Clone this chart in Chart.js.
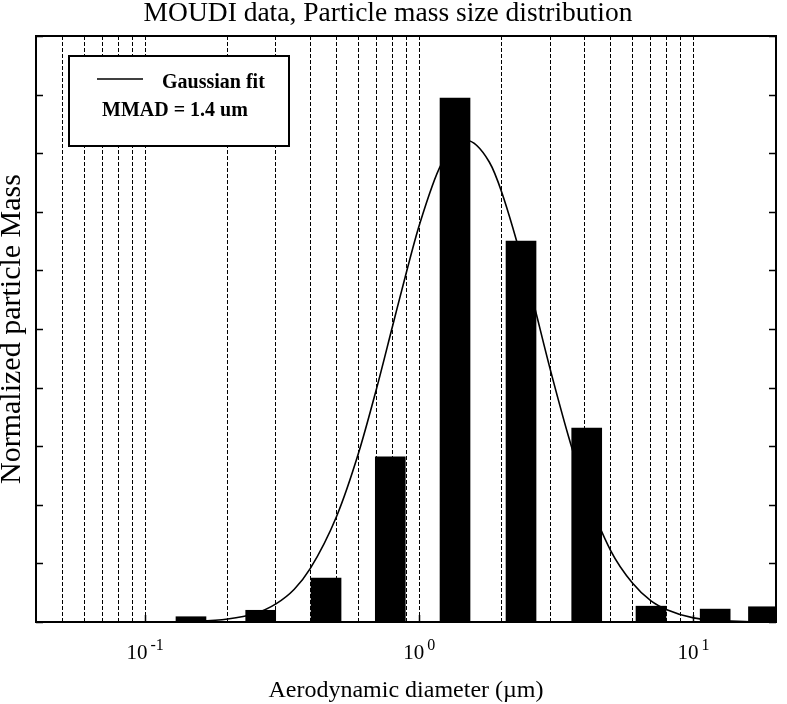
<!DOCTYPE html>
<html>
<head>
<meta charset="utf-8">
<script src="https://cdn.jsdelivr.net/npm/chart.js@4.4.0/dist/chart.umd.min.js"></script>
<style>
  html, body { margin: 0; padding: 0; background: #fff; }
  #wrap { width: 787px; height: 704px; }
</style>
</head>
<body>
<div id="wrap"><canvas id="myChart"></canvas></div>
<script>
// MOUDI stage mid diameters (um) and normalized mass
var stageDiameters = [0.147, 0.264, 0.457, 0.784, 1.35, 2.35, 4.08, 7.0, 12.0, 18.0];
var stageMass = [0.009, 0.020, 0.075, 0.282, 0.894, 0.650, 0.331, 0.027, 0.022, 0.026];

// points
var fitDiameters = [0.12, 0.15, 0.2, 0.25, 0.3, 0.35, 0.4, 0.5, 0.6, 0.7, 0.8, 0.9, 1.0, 1.2, 1.48, 1.8, 2.0, 2.5, 3.0, 3.5, 4.0, 5.0, 6.0, 7.0, 8.0, 10, 12, 16];
var fitMass = [0.0002, 0.001, 0.005, 0.014, 0.031, 0.056, 0.091, 0.181, 0.288, 0.400, 0.506, 0.599, 0.677, 0.780, 0.822, 0.785, 0.733, 0.578, 0.432, 0.317, 0.230, 0.121, 0.066, 0.036, 0.021, 0.007, 0.003, 0.0005];

// dashed grid at the log minor ticks, labels only on the decades
var xGridTicks = [0.05, 0.06, 0.07, 0.08, 0.09, 0.1, 0.2, 0.3, 0.4, 0.5, 0.6, 0.7, 0.8, 0.9, 1, 2, 3, 4, 5, 6, 7, 8, 9, 10];
var xLabelTicks = [0.1, 1, 10];
var xLabelBase = '10';
var xLabelExps = ['-1', '0', '1'];

var legendLines = ['Gaussian fit', 'MMAD = 1.4 um'];

var serif = '"Liberation Serif", "Times New Roman", serif';
Chart.defaults.font.family = serif;
Chart.defaults.color = '#000';

function toPoints(xs, ys) {
  return xs.map(function(x, i) { return { x: x, y: ys[i] }; });
}

// frame, inward ticks, decade labels and the legend box
var framePlugin = {
  id: 'frame',
  afterDraw: function(chart) {
    var ctx = chart.ctx;
    var a = chart.chartArea;
    var xs = chart.scales.x;
    var ys = chart.scales.y;
    ctx.save();
    ctx.strokeStyle = '#000';
    ctx.lineWidth = 2;
    ctx.strokeRect(a.left, a.top, a.right - a.left, a.bottom - a.top);

    ctx.lineWidth = 1.5;
    ctx.beginPath();
    ys.ticks.forEach(function(t) {
      var py = Math.round(ys.getPixelForValue(t.value)) + 0.5;
      ctx.moveTo(a.left, py); ctx.lineTo(a.left + 7, py);
      ctx.moveTo(a.right, py); ctx.lineTo(a.right - 7, py);
    });
    xLabelTicks.forEach(function(v) {
      var px = Math.round(xs.getPixelForValue(v)) + 0.5;
      ctx.moveTo(px, a.bottom); ctx.lineTo(px, a.bottom - 7);
    });
    ctx.stroke();

    ctx.fillStyle = '#000';
    ctx.textBaseline = 'alphabetic';
    ctx.textAlign = 'left';
    xLabelTicks.forEach(function(v, i) {
      var px = xs.getPixelForValue(v);
      ctx.font = '21px ' + serif;
      var w1 = ctx.measureText(xLabelBase).width;
      ctx.font = '16px ' + serif;
      var w2 = ctx.measureText(xLabelExps[i]).width;
      var start = px - (w1 + 3 + w2) / 2;
      ctx.font = '21px ' + serif;
      ctx.fillText(xLabelBase, start, a.bottom + 37);
      ctx.font = '16px ' + serif;
      ctx.fillText(xLabelExps[i], start + w1 + 3, a.bottom + 28);
    });

    // legend
    var bx = a.left + 33, by = a.top + 20;
    ctx.fillStyle = '#fff';
    ctx.fillRect(bx, by, 220, 90);
    ctx.lineWidth = 2;
    ctx.strokeRect(bx, by, 220, 90);
    ctx.lineWidth = 1.5;
    ctx.beginPath();
    ctx.moveTo(bx + 28, by + 23); ctx.lineTo(bx + 74, by + 23);
    ctx.stroke();
    ctx.fillStyle = '#000';
    ctx.font = 'bold 20px ' + serif;
    ctx.fillText(legendLines[0], bx + 93, by + 32);
    ctx.fillText(legendLines[1], bx + 33, by + 60);
    ctx.restore();
  }
};

var ctx = document.getElementById('myChart');

new Chart(ctx, {
  type: 'bar',
  data: {
    datasets: [{
      type: 'line',
      label: 'Gaussian fit',
      data: toPoints(fitDiameters, fitMass),
      borderColor: '#000',
      borderWidth: 1.6,
      pointRadius: 0,
      cubicInterpolationMode: 'monotone',
      fill: false
    }, {
      type: 'bar',
      label: 'MOUDI',
      data: toPoints(stageDiameters, stageMass),
      backgroundColor: '#000',
      borderWidth: 0,
      barThickness: 30
    }]
  },
  options: {
    responsive: true,
    maintainAspectRatio: false,
    animation: false,
    layout: { padding: { left: 0, right: 11, top: 0, bottom: 0 } },
    plugins: {
      legend: { display: false },
      tooltip: { enabled: false },
      title: {
        display: true,
        text: 'MOUDI data, Particle mass size distribution',
        font: { size: 27.5, weight: 'normal', lineHeight: 0.8 },
        color: '#000',
        padding: { top: 3, bottom: 11 }
      }
    },
    scales: {
      x: {
        type: 'logarithmic',
        min: 0.04,
        max: 20,
        offset: false,
        afterBuildTicks: function(scale) {
          scale.ticks = xGridTicks.map(function(v) { return { value: v }; });
        },
        afterFit: function(scale) { scale.height = 82; },
        ticks: { display: false },
        grid: { offset: false, color: '#000', lineWidth: 1, drawTicks: false },
        border: { display: false, dash: [4, 2] },
        title: {
          display: true,
          text: 'Aerodynamic diameter (\u00b5m)',
          font: { size: 24, lineHeight: 1.2 },
          padding: { top: 0, bottom: -1 }
        }
      },
      y: {
        min: 0,
        max: 1,
        afterFit: function(scale) { scale.width = 36; },
        ticks: { display: false, stepSize: 0.1 },
        grid: { display: false },
        border: { display: false },
        title: {
          display: true,
          text: 'Normalized particle Mass',
          font: { size: 30, lineHeight: 0.8 },
          padding: 0
        }
      }
    }
  },
  plugins: [framePlugin]
});
</script>
</body>
</html>
